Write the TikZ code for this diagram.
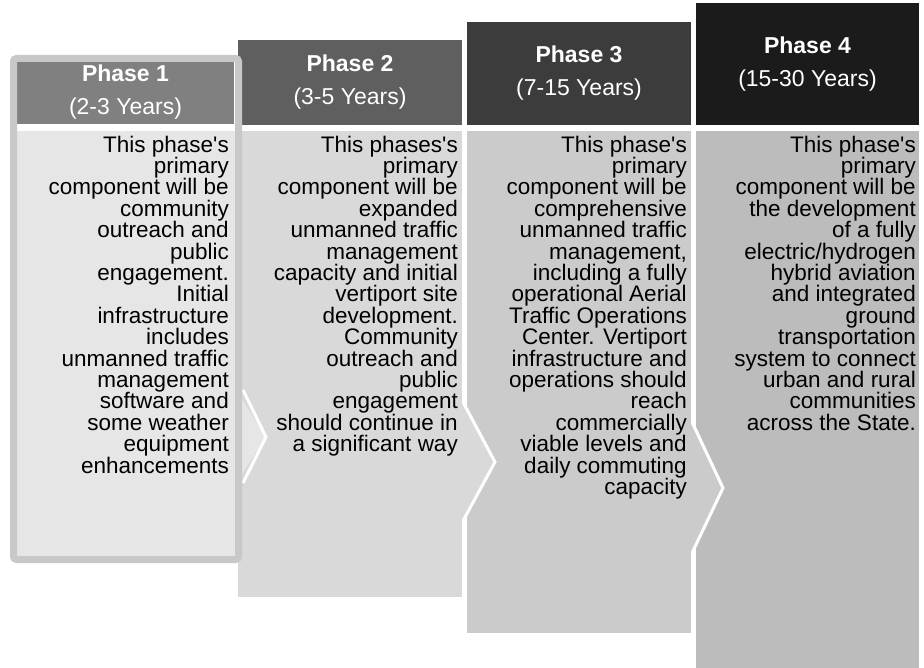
\documentclass[tikz,border=0pt]{standalone}
\usepackage{fontspec}
\setmainfont{Liberation Sans}
\usepackage{tikz}
\usetikzlibrary{positioning}
\definecolor{headone}{HTML}{808080}
\definecolor{headtwo}{HTML}{5F5F5F}
\definecolor{headthree}{HTML}{3C3C3C}
\definecolor{headfour}{HTML}{1B1B1B}
\definecolor{bodyone}{HTML}{E6E6E6}
\definecolor{bodytwo}{HTML}{D9D9D9}
\definecolor{bodythree}{HTML}{CBCBCB}
\definecolor{bodyfour}{HTML}{BCBCBC}
\definecolor{frameone}{HTML}{C8C8C8}

\begin{document}
\begin{tikzpicture}[
  x=1pt, y=-1pt,
  phasehead/.style={rectangle, inner sep=0pt, text=white, align=center, font={\fontsize{23}{33}\selectfont}},
  bodytext/.style={anchor=north east, inner sep=0pt, align=right, text=black, font={\fontsize{22.5}{21.4}\selectfont}},
  notch/.style={draw=white, line width=3pt, line join=miter},
  phaseframe/.style={draw=frameone, line width=7pt, rounded corners=3pt}
]
\useasboundingbox (0,0) rectangle (924,668);

% Column bodies (longer with each phase)
\fill[bodyfour] (696,131) rectangle (919,668);
\fill[bodythree] (467,131) rectangle (691,633);
\fill[bodytwo] (238,131) rectangle (462,597);
\fill[bodyone] (17,131) rectangle (235,556);

% Headers (stepping up towards Phase 4)
\node[phasehead, fill=headone, minimum width=217, minimum height=63] (head1) at (125.5,92.5) {\textbf{Phase 1}\\(2-3 Years)};
\node[phasehead, fill=headtwo, minimum width=224, minimum height=85] (head2) at (350,82.5) {\textbf{Phase 2}\\(3-5 Years)};
\node[phasehead, fill=headthree, minimum width=224, minimum height=103] (head3) at (579,73.5) {\textbf{Phase 3}\\(7-15 Years)};
\node[phasehead, fill=headfour, minimum width=223, minimum height=122] (head4) at (807.5,64) {\textbf{Phase 4}\\(15-30 Years)};

% Chevrons pointing into the next phase
\fill[bodyone] (236,390) -- (266,437) -- (236,483) -- cycle;
\draw[notch] (243,390) -- (266,437) -- (243,483);
\fill[bodytwo] (462,403) -- (495,462) -- (462,520) -- cycle;
\draw[notch] (463.5,403) -- (495,462) -- (463.5,520);
\fill[bodythree] (691,423) -- (723,488) -- (691,552) -- cycle;
\draw[notch] (692.5,423) -- (723,488) -- (692.5,552);

% Frame round the current phase
\draw[phaseframe] (13.5,58.5) rectangle (238.5,559.5);

% Phase descriptions
\node[bodytext] (text1) at (229,135.6) {This phase\textquotesingle s\\primary\\component will be\\community\\outreach and\\public\\engagement.\\Initial\\infrastructure\\includes\\unmanned traffic\\management\\software and\\some weather\\equipment\\enhancements};
\node[bodytext] (text2) at (458,135.6) {This phases\textquotesingle s\\primary\\component will be\\expanded\\unmanned traffic\\management\\capacity and initial\\vertiport site\\development.\\Community\\outreach and\\public\\engagement\\should continue in\\a significant way};
\node[bodytext] (text3) at (687,135.6) {This phase\textquotesingle s\\primary\\component will be\\comprehensive\\unmanned traffic\\management,\\including a fully\\operational Aerial\\Traffic Operations\\Center. Vertiport\\infrastructure and\\operations should\\reach\\commercially\\viable levels and\\daily commuting\\capacity};
\node[bodytext] (text4) at (916,135.6) {This phase\textquotesingle s\\primary\\component will be\\the development\\of a fully\\electric/hydrogen\\hybrid aviation\\and integrated\\ground\\transportation\\system to connect\\urban and rural\\communities\\across the State.};

\end{tikzpicture}
\end{document}
